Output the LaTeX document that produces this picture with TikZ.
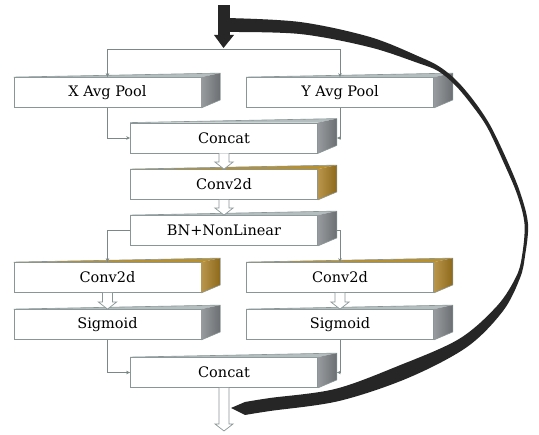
\documentclass[tikz,border=0pt]{standalone}
\usepackage{fontspec}
\setmainfont{DejaVu Serif}
\usetikzlibrary{calc,arrows.meta}
\definecolor{edgegray}{HTML}{8A9696}
\definecolor{sidegray}{HTML}{7E8286}
\definecolor{topgray}{HTML}{B4BEBE}
\definecolor{sidegold}{HTML}{A67B1F}
\definecolor{topgold}{HTML}{B8902E}
\definecolor{linegray}{HTML}{7C8888}
\definecolor{curvecol}{HTML}{262626}
\tikzset{
  prismfront/.style={draw=edgegray, line width=0.8pt, fill=white, minimum width=187pt,
    minimum height=30pt, inner sep=0pt, font=\rmfamily\fontsize{14.5}{14.5}\selectfont},
  conn/.style={draw=linegray, line width=0.6pt},
  connarr/.style={conn, -{Stealth[length=4pt,width=3.5pt]}},
  hollowst/.style={draw=edgegray, line width=0.7pt, fill=white, line join=miter},
}
\newcommand\prism[6]{%
  \node[prismfront] (#1) at (#2,#3) {#6};
  \fill[#5] (#1.north west) -- ($(#1.north east)+(19pt,4pt)$) -- (#1.north east) -- cycle;
  \shade[left color=#4!80!white, right color=#4!85!black] (#1.north east) -- ($(#1.north east)+(19pt,4pt)$) -- ($(#1.south east)+(19pt,8pt)$) -- (#1.south east) -- cycle;
  \draw[edgegray, line width=0.6pt, line join=round] (#1.north west) -- ($(#1.north east)+(19pt,4pt)$) -- ($(#1.south east)+(19pt,8pt)$) -- (#1.south east);
  \coordinate (#1-side) at ($(#1.east)+(19pt,0)$);
}
\newcommand\hollowarr[2]{%
  \draw[hollowst] let \p1=(#1), \p2=(#2) in
    (\x1-5pt,\y1) -- (\x1-5pt,\y2+7pt) -- (\x1-9pt,\y2+7pt) -- (\x1,\y2) --
    (\x1+9pt,\y2+7pt) -- (\x1+5pt,\y2+7pt) -- (\x1+5pt,\y1);
}
\begin{document}
\begin{tikzpicture}[x=1pt,y=-1pt]
\useasboundingbox (0,0) rectangle (539,435);
\fill[white] (0,0) rectangle (539,435);

% boxes
\prism{xpool}{107.5}{92.5}{sidegray}{topgray}{X Avg Pool}
\prism{ypool}{340}{92.5}{sidegray}{topgray}{Y Avg Pool}
\prism{concata}{224}{138}{sidegray}{topgray}{Concat}
\prism{conva}{224}{184.5}{sidegold}{topgold}{Conv2d}
\prism{bn}{224}{230.5}{sidegray}{topgray}{BN+NonLinear}
\prism{convl}{107.5}{277.5}{sidegold}{topgold}{Conv2d}
\prism{convr}{340}{277.5}{sidegold}{topgold}{Conv2d}
\prism{sigl}{107.5}{324.5}{sidegray}{topgray}{Sigmoid}
\prism{sigr}{340}{324.5}{sidegray}{topgray}{Sigmoid}
\prism{concatb}{224}{372.5}{sidegray}{topgray}{Concat}

\coordinate (in) at (223,49);
\coordinate (out) at (224,431);

% thin connectors
\draw[connarr] (in) -| (xpool.north);
\draw[connarr] (in) -| (ypool.north);
\draw[connarr] (xpool.south) |- (concata.west);
\draw[connarr] (ypool.south) |- (concata-side);
\draw[connarr] (bn.west) -| (convl.north);
\draw[connarr] (bn-side) -| (convr.north);
\draw[connarr] (sigl.south) |- (concatb.west);
\draw[connarr] (sigr.south) |- (concatb-side);

% hollow block arrows
\hollowarr{concata.south}{conva.north}
\hollowarr{conva.south}{bn.north}
\hollowarr{convl.south}{sigl.north}
\hollowarr{convr.south}{sigr.north}
\hollowarr{concatb.south}{out}

% big feedback arrow
\fill[curvecol] (218,5) rectangle (230,36);
\fill[curvecol] (214,35) -- (234,35) -- (223.5,48) -- cycle;
\fill[curvecol] plot[smooth, tension=0.55] coordinates {(226,18) (300,22) (370,37) (420,57) (440,67) (457,81) (474,101) (490,125) (506,158) (520,192) (528,224) (525,256) (520,278) (503,311) (467,347) (408,378) (339,401) (270,411) (245,415)}
  -- (231,408)
  -- plot[smooth, tension=0.55] coordinates {(245,402) (270,398) (335,389) (398,366) (459,339) (497,306) (516,277) (522,256) (524.5,224) (517,194) (502.5,160) (487,127) (471,104) (455,85) (438,71) (418,63) (369,47) (300,34) (226,32)}
  -- cycle;
\end{tikzpicture}
\end{document}
